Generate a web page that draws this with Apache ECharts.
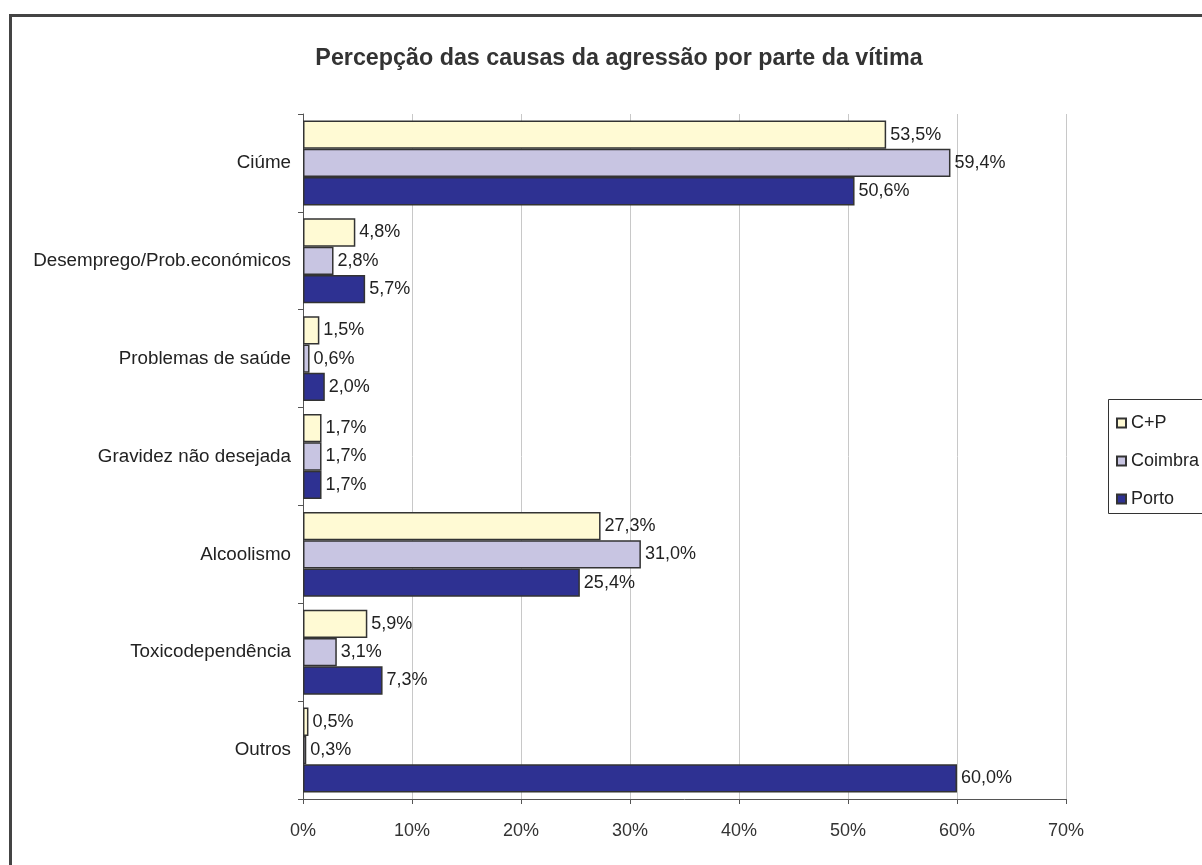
<!DOCTYPE html>
<html>
<head>
<meta charset="utf-8">
<style>
html,body{margin:0;padding:0;background:#fff;}
#chart{width:1202px;height:865px;}
</style>
<script src="https://cdn.jsdelivr.net/npm/echarts@6/dist/echarts.min.js"></script>
</head>
<body>
<div id="chart"></div>
<script>
const categories = ['Ciúme','Desemprego/Prob.económicos','Problemas de saúde','Gravidez não desejada','Alcoolismo','Toxicodependência','Outros'];
const seriesNames = ['C+P','Coimbra','Porto'];
const valuesCP = [53.5, 4.8, 1.5, 1.7, 27.3, 5.9, 0.5];
const valuesCoimbra = [59.4, 2.8, 0.6, 1.7, 31.0, 3.1, 0.3];
const valuesPorto = [50.6, 5.7, 2.0, 1.7, 25.4, 7.3, 60.0];
const xTicks = [0,10,20,30,40,50,60,70];
const titleText = 'Percepção das causas da agressão por parte da vítima';

const colors = ['#FFFAD4','#C8C5E2','#2E3192'];
const fontFam = '"Liberation Sans", Arial, sans-serif';
const chart = echarts.init(document.getElementById('chart'));
const fmt = v => v.toFixed(1).replace('.', ',') + '%';
const dataSets = [valuesCP, valuesCoimbra, valuesPorto];

chart.setOption({
  animation: false,
  title: {
    text: titleText,
    left: 614, top: 42, textAlign: 'center',
    textStyle: {fontFamily: fontFam, fontSize: 23.3, fontWeight: 'bold', color: '#333'}
  },
  graphic: [
    {type:'rect', shape:{x:10.5, y:15.5, width:1220, height:880}, style:{fill:'none', stroke:'#444', lineWidth:3}, silent:true},
    {type:'rect', shape:{x:1108.5, y:399.5, width:120, height:114}, style:{fill:'#fff', stroke:'#333', lineWidth:1}, silent:true, z:-1}
  ],
  legend: {
    orient: 'vertical', left: 1111, top: 409,
    itemWidth: 9, itemHeight: 9, itemGap: 20,
    icon: 'rect',
    data: seriesNames,
    textStyle: {fontFamily: fontFam, fontSize: 18, color: '#222', lineHeight: 18}
  },
  grid: {left: 303, right: 136, top: 114, bottom: 66, containLabel: false},
  xAxis: {
    type: 'value', min: 0, max: 70, interval: 10,
    axisLine: {show: true, lineStyle: {color: '#555', width: 1}},
    axisTick: {show: true, length: 5, lineStyle: {color: '#555'}},
    axisLabel: {formatter: v => v + '%', fontFamily: fontFam, fontSize: 18, color: '#333', margin: 23},
    splitLine: {show: true, lineStyle: {color: '#c8c8c8', width: 1}}
  },
  yAxis: {
    type: 'category', data: categories, inverse: true,
    axisLine: {show: true, lineStyle: {color: '#555', width: 1}},
    axisTick: {show: true, length: 5, lineStyle: {color: '#555'}},
    axisLabel: {fontFamily: fontFam, fontSize: 18.8, color: '#222', margin: 12}
  },
  series: seriesNames.map((n, i) => ({
    name: n, type: 'bar', data: dataSets[i],
    barWidth: 28.3, barGap: '0%',
    itemStyle: {color: colors[i], borderColor: '#333', borderWidth: 1.5},
    label: {show: true, position: 'right', distance: 4, formatter: p => fmt(p.value),
      fontFamily: fontFam, fontSize: 18, color: '#222'}
  }))
});
</script>
</body>
</html>
